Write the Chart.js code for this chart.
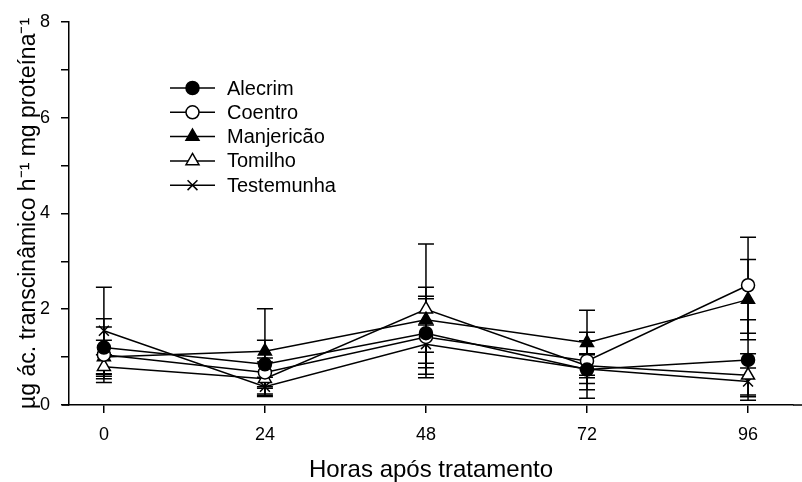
<!DOCTYPE html>
<html>
<head>
<meta charset="utf-8">
<script src="https://cdn.jsdelivr.net/npm/chart.js@4.4.1/dist/chart.umd.min.js"></script>
<style>
  body { margin: 0; background: #fff; }
  #wrap { width: 802px; height: 482px; }
</style>
</head>
<body>
<div id="wrap"><canvas id="atividade" width="802" height="482"></canvas></div>
<script>
const hours = [0, 24, 48, 72, 96];
const seriesNames = ['Alecrim', 'Coentro', 'Manjericão', 'Tomilho', 'Testemunha'];

const alecrim = [1.2, 0.85, 1.5, 0.74, 0.94];
const coentro = [1.05, 0.68, 1.42, 0.92, 2.5];
const manjericao = [1.0, 1.12, 1.78, 1.3, 2.2];
const tomilho = [0.8, 0.55, 2.0, 0.82, 0.62];
const testemunha = [1.55, 0.38, 1.27, 0.75, 0.49];

// error bar half-lengths
const alecrimErr = [0.6, 0.5, 0.72, 0.6, 0.84];
const coentroErr = [0.58, 0.3, 0.85, 0.6, 1.0];
const manjericaoErr = [0.35, 0.89, 0.68, 0.68, 0.84];
const tomilhoErr = [0.25, 0.35, 1.36, 0.25, 0.45];
const testemunhaErr = [0.91, 0.2, 0.4, 0.3, 0.28];

const yTicks = [0, 2, 4, 6, 8];

const FONT = "'Liberation Sans', Arial, sans-serif";

{
  const ctx = document.getElementById('atividade').getContext('2d');

  const values = [alecrim, coentro, manjericao, tomilho, testemunha];
  const errors = [alecrimErr, coentroErr, manjericaoErr, tomilhoErr, testemunhaErr];
  const styles = [
    { pointStyle: 'circle', fill: '#000', radius: 6.5 },
    { pointStyle: 'circle', fill: '#fff', radius: 6.5 },
    { pointStyle: 'triangle', fill: '#000', radius: 7.5 },
    { pointStyle: 'triangle', fill: '#fff', radius: 7.5 },
    { pointStyle: 'crossRot', fill: '#fff', radius: 7 }
  ];

  const datasets = seriesNames.map((name, i) => ({
    label: name,
    data: hours.map((h, j) => ({ x: h, y: values[i][j] })),
    errors: errors[i],
    borderColor: '#000',
    borderWidth: 1.5,
    pointStyle: styles[i].pointStyle,
    pointRadius: styles[i].radius,
    pointBackgroundColor: styles[i].fill,
    pointBorderColor: '#000',
    pointBorderWidth: 1.5,
    tension: 0,
    fill: false
  }));

  const errorBars = {
    id: 'errorBars',
    beforeDatasetsDraw(chart) {
      const c = chart.ctx;
      const xs = chart.scales.x, ys = chart.scales.y;
      c.save();
      c.strokeStyle = '#000';
      c.lineWidth = 1.5;
      chart.data.datasets.forEach(ds => {
        ds.data.forEach((p, j) => {
          const e = ds.errors[j];
          const x = xs.getPixelForValue(p.x);
          const top = ys.getPixelForValue(p.y + e);
          const bot = ys.getPixelForValue(p.y - e);
          c.beginPath();
          c.moveTo(x, top); c.lineTo(x, bot);
          c.moveTo(x - 8, top); c.lineTo(x + 8, top);
          c.moveTo(x - 8, bot); c.lineTo(x + 8, bot);
          c.stroke();
        });
      });
      // x axis line runs a little past both ends, as in the original
      const a = chart.chartArea;
      c.beginPath();
      c.moveTo(a.left - 7, a.bottom); c.lineTo(a.left, a.bottom);
      c.moveTo(a.right, a.bottom); c.lineTo(chart.width, a.bottom);
      c.stroke();
      c.restore();
    }
  };

  function marker(c, style, fill, r, x, y) {
    c.beginPath();
    if (style === 'circle') {
      c.arc(x, y, r, 0, Math.PI * 2);
      c.fillStyle = fill; c.fill(); c.stroke();
    } else if (style === 'triangle') {
      c.moveTo(x, y - r);
      c.lineTo(x + r * 0.866, y + r * 0.5);
      c.lineTo(x - r * 0.866, y + r * 0.5);
      c.closePath();
      c.fillStyle = fill; c.fill(); c.stroke();
    } else {
      const d = r * 0.707;
      c.moveTo(x - d, y - d); c.lineTo(x + d, y + d);
      c.moveTo(x + d, y - d); c.lineTo(x - d, y + d);
      c.stroke();
    }
  }

  const insideLegend = {
    id: 'insideLegend',
    afterDraw(chart) {
      const c = chart.ctx;
      c.save();
      c.strokeStyle = '#000';
      c.lineWidth = 1.5;
      c.font = '20px ' + FONT;
      c.textBaseline = 'middle';
      c.textAlign = 'left';
      chart.data.datasets.forEach((ds, i) => {
        const y = 88 + i * 24.3;
        c.beginPath();
        c.moveTo(170, y); c.lineTo(215, y);
        c.stroke();
        marker(c, ds.pointStyle, ds.pointBackgroundColor, ds.pointRadius, 192.5, y);
        c.fillStyle = '#000';
        c.fillText(ds.label, 227, y + 1);
      });
      c.restore();
    }
  };

  const config = {
    type: 'line',
    data: { datasets: datasets },
    options: {
      responsive: false,
      animation: false,
      layout: { padding: { top: 17, right: 0, left: 0, bottom: 0 } },
      plugins: {
        legend: { display: false },
        tooltip: { enabled: false }
      },
      scales: {
        x: {
          type: 'linear',
          min: -5.2,
          max: 102.7,
          afterBuildTicks: (scale) => { scale.ticks = hours.map(v => ({ value: v })); },
          afterFit: (scale) => { scale.height = 77; },
          grid: { drawOnChartArea: false, drawTicks: true, tickLength: 8, color: '#000', lineWidth: 1.5 },
          border: { display: true, color: '#000', width: 1.5 },
          ticks: { color: '#000', font: { family: FONT, size: 18 }, padding: 11, maxRotation: 0 },
          title: {
            display: true,
            text: 'Horas após tratamento',
            color: '#000',
            font: { family: FONT, size: 24, lineHeight: 1 },
            padding: { top: 0, bottom: 0 }
          }
        },
        y: {
          min: 0,
          max: 8,
          afterFit: (scale) => { scale.width = 69; },
          grid: { drawOnChartArea: false, drawTicks: true, tickLength: 8, color: '#000', lineWidth: 1.5 },
          border: { display: true, color: '#000', width: 1.5 },
          ticks: {
            stepSize: 1,
            color: '#000',
            padding: 11,
            font: { family: FONT, size: 18 },
            callback: (v) => yTicks.includes(v) ? String(v) : ''
          },
          title: {
            display: true,
            text: 'µg ác. transcinâmico h⁻¹ mg proteína⁻¹',
            color: '#000',
            font: { family: FONT, size: 23, lineHeight: 1.2 },
            padding: { top: 15, bottom: 0 }
          }
        }
      }
    },
    plugins: [errorBars, insideLegend]
  };

  var atividade = new Chart(ctx, config);
}
</script>
</body>
</html>
